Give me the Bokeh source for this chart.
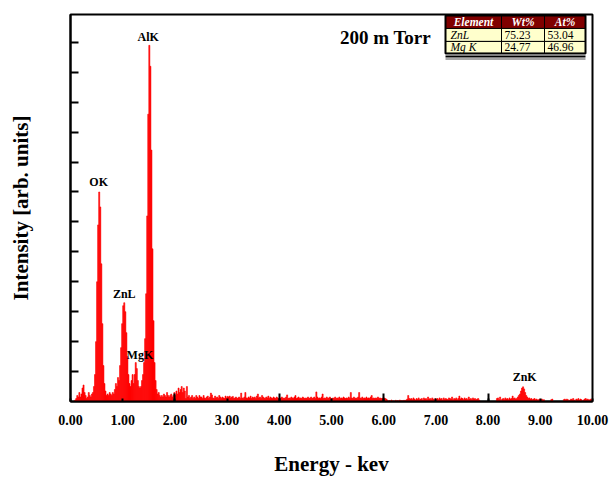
from bokeh.plotting import figure
from bokeh.models import Range1d, FixedTicker, Label
from bokeh.embed import file_html
from bokeh.resources import INLINE

# ---------------- data ----------------
CHANNEL_START = 0.0      # keV
CHANNEL_WIDTH = 0.02     # keV
counts = [
    0, 0, 0, 0, 0.05, 0.1, 0.2, 0.15, 0.3, 0.15, 0.25, 0.45, 0.55, 0.3, 0.2, 0.1, 0.15, 0.3, 0.2, 0.15, 0.25, 0.3, 0.5, 0.9, 2.0,
    4.0, 5.9, 7.0, 6.5, 4.6, 2.6, 1.2, 0.6, 0.35, 0.2, 0.25, 0.2, 0.3, 0.25, 0.2, 0.3, 0.25, 0.4, 0.6, 0.5, 0.8, 0.7, 1.2, 1.8, 2.6,
    3.2, 3.3, 3.0, 2.3, 1.5, 0.9, 0.6, 0.5, 0.7, 0.9, 0.6, 0.9, 1.3, 1.1, 0.7, 0.5, 0.45, 0.5, 0.7, 0.9, 1.3, 2.1, 3.6, 6.2, 9.6,
    11.9, 11.2, 8.4, 5.1, 2.7, 1.3, 0.7, 0.4, 0.25, 0.3, 0.2, 0.15, 0.2, 0.15, 0.25, 0.2, 0.15, 0.3, 0.2, 0.15, 0.2, 0.25, 0.15, 0.2, 0.3,
    0.2, 0.35, 0.25, 0.45, 0.3, 0.4, 0.5, 0.3, 0.45, 0.35, 0.1, 0.5, 0.15, 0.2, 0.1, 0.15, 0.2, 0.1, 0.15, 0.1, 0.2, 0.15, 0.1, 0.2, 0.15,
    0.15, 0.1, 0.2, 0.12, 0.1, 0.15, 0.18, 0.1, 0.15, 0.28, 0.22, 0.12, 0.1, 0.18, 0.12, 0.15, 0.1, 0.2, 0.15, 0.1, 0.15, 0.12, 0.1, 0.18, 0.12,
    0.17, 0.15, 0.18, 0.12, 0.15, 0.17, 0.1, 0.12, 0.15, 0.1, 0.12, 0.15, 0.1, 0.28, 0.12, 0.1, 0.15, 0.3, 0.12, 0.1, 0.15, 0.12, 0.18, 0.1, 0.15,
    0.12, 0.15, 0.1, 0.18, 0.25, 0.12, 0.15, 0.1, 0.2, 0.15, 0.12, 0.1, 0.15, 0.12, 0.18, 0.1, 0.15, 0.12, 0.1, 0.15, 0.12, 0.1, 0.15, 0.12, 0.1,
    0.1, 0.12, 0.15, 0.1, 0.12, 0.1, 0.15, 0.22, 0.1, 0.12, 0.1, 0.15, 0.12, 0.1, 0.15, 0.2, 0.1, 0.12, 0.15, 0.1, 0.12, 0.1, 0.15, 0.12, 0.1,
    0.12, 0.1, 0.15, 0.1, 0.12, 0.15, 0.1, 0.12, 0.15, 0.1, 0.32, 0.15, 0.1, 0.12, 0.1, 0.15, 0.25, 0.1, 0.12, 0.1, 0.15, 0.1, 0.12, 0.15, 0.1,
    0.1, 0.12, 0.1, 0.15, 0.1, 0.12, 0.1, 0.15, 0.1, 0.12, 0.1, 0.15, 0.12, 0.1, 0.12, 0.1, 0.15, 0.1, 0.3, 0.12, 0.1, 0.15, 0.1, 0.12, 0.1,
    0.15, 0.3, 0.12, 0.1, 0.15, 0.1, 0.12, 0.1, 0.15, 0.1, 0.12, 0.1, 0.15, 0.2, 0.1, 0.12, 0.1, 0.12, 0.1, 0.15, 0.1, 0.12, 0.1, 0.1, 0.12,
    0.12, 0.1, 0.08, 0.05, 0, 0.03, 0, 0.05, 0, 0.02, 0, 0.04, 0, 0.03, 0, 0.05, 0, 0.03, 0, 0.04, 0, 0.05, 0.08, 0.2, 0.1,
    0.08, 0.1, 0.06, 0.12, 0.08, 0.05, 0.1, 0.07, 0.12, 0.06, 0.08, 0.1, 0.05, 0.12, 0.08, 0.1, 0.06, 0.15, 0.08, 0.1, 0.06, 0.12, 0.08, 0.05, 0.1,
    0.08, 0.1, 0.06, 0.12, 0.08, 0.1, 0.05, 0.12, 0.07, 0.1, 0.08, 0.06, 0.12, 0.1, 0.08, 0.15, 0.06, 0.1, 0.08, 0.12, 0.06, 0.1, 0.18, 0.08, 0.12,
    0.1, 0.06, 0.12, 0.08, 0.1, 0.06, 0.15, 0.08, 0.1, 0.06, 0.12, 0.08, 0.1, 0.06, 0.08, 0.1, 0.05, 0, 0, 0, 0, 0, 0, 0, 0,
    0, 0, 0, 0, 0, 0, 0, 0, 0.1, 0.12, 0.06, 0.15, 0, 0.08, 0.1, 0.06, 0.12, 0.08, 0.1, 0.06, 0.12, 0.08, 0.1, 0.18, 0.1,
    0.12, 0.08, 0.1, 0.15, 0.2, 0.25, 0.35, 0.45, 0.49, 0.42, 0.3, 0.2, 0.15, 0.1, 0.12, 0.08, 0.1, 0.06, 0.08, 0.1, 0.06, 0.08, 0.05, 0.06, 0.08,
    0.06, 0.08, 0.05, 0.06, 0, 0, 0, 0, 0, 0, 0.06, 0.08, 0, 0, 0, 0, 0, 0, 0, 0, 0, 0, 0.06, 0.08, 0.05,
    0.08, 0.06, 0, 0.05, 0.08, 0.06, 0.1, 0.05, 0, 0.08, 0.06, 0.1, 0.05, 0.08, 0.06, 0, 0.05, 0.08, 0.1, 0.06, 0.08, 0.05, 0.06, 0.08, 0,
]
energy = [CHANNEL_START + CHANNEL_WIDTH * (i + 0.5) for i in range(len(counts))]

x_ticks = [0, 1, 2, 3, 4, 5, 6, 7, 8, 9, 10]
x_tick_labels = ["0.00", "1.00", "2.00", "3.00", "4.00", "5.00", "6.00", "7.00", "8.00", "9.00", "10.00"]
y_ticks = [1, 2, 3, 4, 5, 6, 7, 8, 9, 10, 11, 12]

peak_names = ["OK", "ZnL", "MgK", "AlK", "ZnK"]
peak_energy = [0.54, 1.03, 1.33, 1.49, 8.70]
peak_label_y = [7.33, 3.60, 1.57, 12.17, 0.81]

table_header = ["Element", "Wt%", "At%"]
table_element = ["ZnL", "Mg K"]
table_wt = ["75.23", "24.77"]
table_at = ["53.04", "46.96"]

TITLE = "200 m Torr"

# ---------------- figure ----------------
FONT = "Liberation Serif"
X_MAX = 10.0
Y_MAX = 12.93

p = figure(width=610, height=478, output_backend="svg", toolbar_location=None,
           x_range=Range1d(0, X_MAX), y_range=Range1d(0, Y_MAX),
           min_border_left=70, min_border_right=18, min_border_top=14, min_border_bottom=76)
p.background_fill_color = "white"
p.border_fill_color = "white"
p.outline_line_color = "black"
p.outline_line_width = 2
p.xgrid.visible = False
p.ygrid.visible = False

p.vbar(x=energy, top=counts, width=CHANNEL_WIDTH, bottom=0,
       fill_color="#FF0000", line_color="#FF0000", line_width=0.6)

# x axis
xa = p.xaxis[0]
xa.ticker = FixedTicker(ticks=x_ticks, minor_ticks=[2, 4, 6, 8])
xa.major_label_overrides = {t: l for t, l in zip(x_ticks, x_tick_labels)}
xa.major_tick_in = 3
xa.major_tick_out = 0
xa.minor_tick_in = 8
xa.minor_tick_out = 0
xa.major_tick_line_width = 2
xa.minor_tick_line_width = 2
xa.major_tick_line_color = "black"
xa.minor_tick_line_color = "black"
xa.axis_line_width = 2
xa.axis_line_color = "black"
xa.major_label_text_font = FONT
xa.major_label_text_font_style = "bold"
xa.major_label_text_font_size = "14px"
xa.major_label_text_color = "black"
xa.major_label_standoff = 13
xa.axis_label = "Energy - kev"
xa.axis_label_text_font = FONT
xa.axis_label_text_font_style = "bold"
xa.axis_label_text_font_size = "21px"
xa.axis_label_text_color = "black"
xa.axis_label_standoff = 24

# y axis (ticks without labels)
ya = p.yaxis[0]
ya.ticker = FixedTicker(ticks=y_ticks, minor_ticks=[])
ya.major_label_overrides = {t: "" for t in y_ticks}
ya.major_tick_in = 8
ya.major_tick_out = 0
ya.major_tick_line_width = 2
ya.major_tick_line_color = "black"
ya.axis_line_width = 2
ya.axis_line_color = "black"
ya.major_label_standoff = 0
ya.axis_label = "Intensity [arb. units]"
ya.axis_label_text_font = FONT
ya.axis_label_text_font_style = "bold"
ya.axis_label_text_font_size = "21px"
ya.axis_label_text_color = "black"
ya.axis_label_standoff = 38

# helpers: reference-pixel positions -> data coordinates (frame 70..592 x 14..402)
def dx(px):
    return (px - 70) / 522.0 * X_MAX

def dy(py):
    return (402 - py) / 388.0 * Y_MAX

# peak labels
for name, ex, ly in zip(peak_names, peak_energy, peak_label_y):
    p.add_layout(Label(x=ex, y=ly, text=name, text_font=FONT, text_font_style="bold",
                       text_font_size="12px", text_align="center", text_baseline="middle",
                       text_color="black"))

p.add_layout(Label(x=dx(385), y=dy(37), text=TITLE, text_font=FONT, text_font_style="bold",
                   text_font_size="19px", text_align="center", text_baseline="middle",
                   text_color="black"))

# table
col_edges = [445, 501, 544, 585]
row_edges = [15, 28, 41, 53]
fills = ["#800000", "#FFFFCC", "#FFFFCC"]
for r in range(3):
    p.quad(left=[dx(col_edges[0])], right=[dx(col_edges[-1])],
           top=[dy(row_edges[r])], bottom=[dy(row_edges[r + 1])],
           fill_color=fills[r], line_color="black", line_width=1)
for c in (1, 2):
    p.segment(x0=[dx(col_edges[c])], x1=[dx(col_edges[c])], y0=[dy(row_edges[0])], y1=[dy(row_edges[-1])],
              line_color="black", line_width=1)
p.quad(left=[dx(col_edges[0])], right=[dx(col_edges[-1])], top=[dy(row_edges[0])], bottom=[dy(row_edges[-1])],
       fill_color=None, line_color="black", line_width=2)
p.segment(x0=[dx(445)], x1=[dx(585)], y0=[dy(56)], y1=[dy(56)], line_color="black", line_width=2)
p.segment(x0=[dx(445)], x1=[dx(585)], y0=[dy(58.7)], y1=[dy(58.7)], line_color="#888888", line_width=1.5)

for c, h in enumerate(table_header):
    cx = (col_edges[c] + col_edges[c + 1]) / 2
    cy = (row_edges[0] + row_edges[1]) / 2
    p.add_layout(Label(x=dx(cx), y=dy(cy), text=h, text_font=FONT, text_font_style="bold italic",
                       text_font_size="11.5px", text_color="white", text_align="center", text_baseline="middle"))
for r in range(2):
    cy = (row_edges[r + 1] + row_edges[r + 2]) / 2
    p.add_layout(Label(x=dx(col_edges[0] + 5), y=dy(cy), text=table_element[r], text_font=FONT,
                       text_font_style="italic", text_font_size="11.5px", text_align="left",
                       text_baseline="middle", text_color="black"))
    p.add_layout(Label(x=dx(col_edges[1] + 3), y=dy(cy), text=table_wt[r], text_font=FONT,
                       text_font_size="11.5px", text_align="left", text_baseline="middle", text_color="black"))
    p.add_layout(Label(x=dx(col_edges[2] + 3), y=dy(cy), text=table_at[r], text_font=FONT,
                       text_font_size="11.5px", text_align="left", text_baseline="middle", text_color="black"))

open("out.html", "w").write(file_html(p, INLINE))
